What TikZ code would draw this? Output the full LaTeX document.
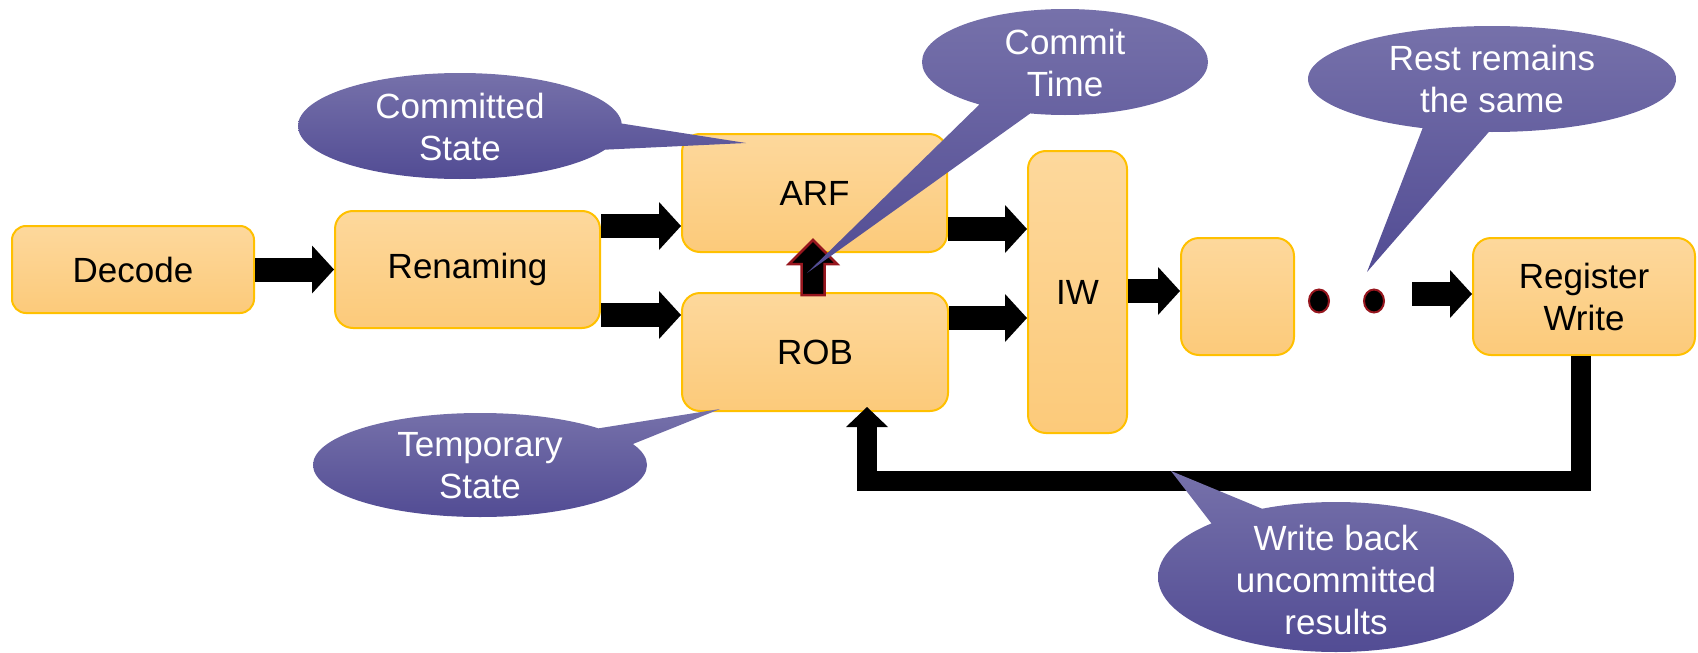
\documentclass[tikz,border=0pt]{standalone}
\usepackage{fontspec}
\setmainfont{Liberation Sans}
\usetikzlibrary{arrows.meta,calc,shapes.geometric}
\definecolor{boxtop}{RGB}{253,216,156}
\definecolor{boxbot}{RGB}{252,202,122}
\definecolor{boxline}{RGB}{255,192,0}
\definecolor{calltop}{RGB}{118,113,170}
\definecolor{callbot}{RGB}{82,76,148}
\definecolor{tipred}{RGB}{150,22,30}
\begin{document}
\begin{tikzpicture}[x=1pt,y=-1pt,
  stage/.style={draw=boxline, line width=2pt, top color=boxtop, bottom color=boxbot,
    rounded corners=18pt, inner sep=0pt, align=center,
    font=\fontsize{35pt}{42pt}\selectfont},
  fat/.style={line width=24pt, -{Triangle[width=48pt,length=22pt,line width=0pt]}},
  fb/.style={line width=20pt, line join=miter, -{Triangle[width=42pt,length=20pt,line width=0pt]}},
  commitarr/.style={fill=black, draw=tipred, line width=2.5pt, line join=miter},
  dotmark/.style={ellipse, fill=black, draw=tipred, line width=2pt,
    minimum width=20pt, minimum height=23pt, inner sep=0pt},
  bubble/.style={top color=calltop, bottom color=callbot},
  calltext/.style={text=white, align=center, inner sep=0pt,
    font=\fontsize{35pt}{42pt}\selectfont}]
\useasboundingbox (0,0) rectangle (1698,653);

% pipeline stages
\node[stage, minimum width=242pt, minimum height=87pt, rounded corners=14pt] (dec) at (133,269.5) {Decode};
\node[stage, minimum width=265pt, minimum height=117pt] (ren) at (467.5,269.5) {Renaming};
\node[stage, minimum width=265pt, minimum height=118pt] (arf) at (814.5,193) {ARF};
\node[stage, minimum width=266pt, minimum height=118pt] (rob) at (815,352) {ROB};
\node[stage, minimum width=99pt, minimum height=282pt] (iw) at (1077.5,292) {IW};
\node[stage, minimum width=113pt, minimum height=117pt] (blank) at (1237.5,296.5) {};
\node[stage, minimum width=222pt, minimum height=117pt] (regw) at (1584,296.5) {Register\\Write};

% ellipsis between stages
\node[dotmark] (d1) at (1319,301) {};
\node[dotmark] (d2) at (1374,301) {};

% forward flow
\draw[fat] (dec) -- (ren);
\draw[fat] (ren.east |- 0,226) -- (arf.west |- 0,226);
\draw[fat] (ren.east |- 0,315) -- (rob.west |- 0,315);
\draw[fat] (arf.east |- 0,229) -- (iw.west |- 0,229);
\draw[fat] (rob.east |- 0,318) -- (iw.west |- 0,318);
\draw[fat] (iw.east |- 0,291) -- (blank.west |- 0,291);
\coordinate (dotsend) at (1412,294);
\draw[fat] (dotsend) -- (regw.west |- dotsend);

% write back into the ROB
\coordinate (fbstart) at ([xshift=-3pt]regw.south);
\coordinate (fbend) at ([xshift=52pt,yshift=5pt]rob.south);
\draw[fb] (fbstart) -- (fbstart |- 0,481) -| (fbend);

% commit: ROB -> ARF
\coordinate (cfoot) at ([xshift=-2pt,yshift=-3pt]rob.north);
\coordinate (ctip) at ([xshift=-1.5pt,yshift=13pt]arf.south);
\draw[commitarr] let \p1=(cfoot), \p2=(ctip) in
  (\x1-11.5pt,\y1) -- (\x1-11.5pt,\y2-24pt) -- (\x1-24pt,\y2-24pt) -- (\x2,\y2)
  -- (\x1+24pt,\y2-24pt) -- (\x1+11.5pt,\y2-24pt) -- (\x1+11.5pt,\y1) -- cycle;

% speech bubbles
\shade[bubble] (622,126) arc[start angle=0,end angle=360,x radius=162pt,y radius=53pt] -- cycle
  (612,122) -- (598,150) -- (746,143) -- cycle;
\node[calltext] (cst) at (460,127) {Committed\\State};

\shade[bubble] (647,465) arc[start angle=0,end angle=360,x radius=167pt,y radius=52pt] -- cycle
  (588,430) -- (628,446) -- (720,409) -- cycle;
\node[calltext] (tst) at (480,466) {Temporary\\State};

\shade[bubble] (1208,62) arc[start angle=0,end angle=360,x radius=143pt,y radius=53pt] -- cycle
  (1035,110) -- (983,101) -- (807,273) -- cycle;
\node[calltext] (ctm) at (1065,63) {Commit\\Time};

\shade[bubble] (1676,79) arc[start angle=0,end angle=360,x radius=184pt,y radius=53pt] -- cycle
  (1494,126) -- (1425,122) -- (1367,272) -- cycle;
\node[calltext] (rst) at (1492,79) {Rest remains\\the same};

\shade[bubble] (1514,577) arc[start angle=0,end angle=360,x radius=178pt,y radius=75pt] -- cycle
  (1215,528) -- (1270,512) -- (1171,471) -- cycle;
\node[calltext] (wbk) at (1336,580) {Write back\\uncommitted\\results};
\end{tikzpicture}
\end{document}
